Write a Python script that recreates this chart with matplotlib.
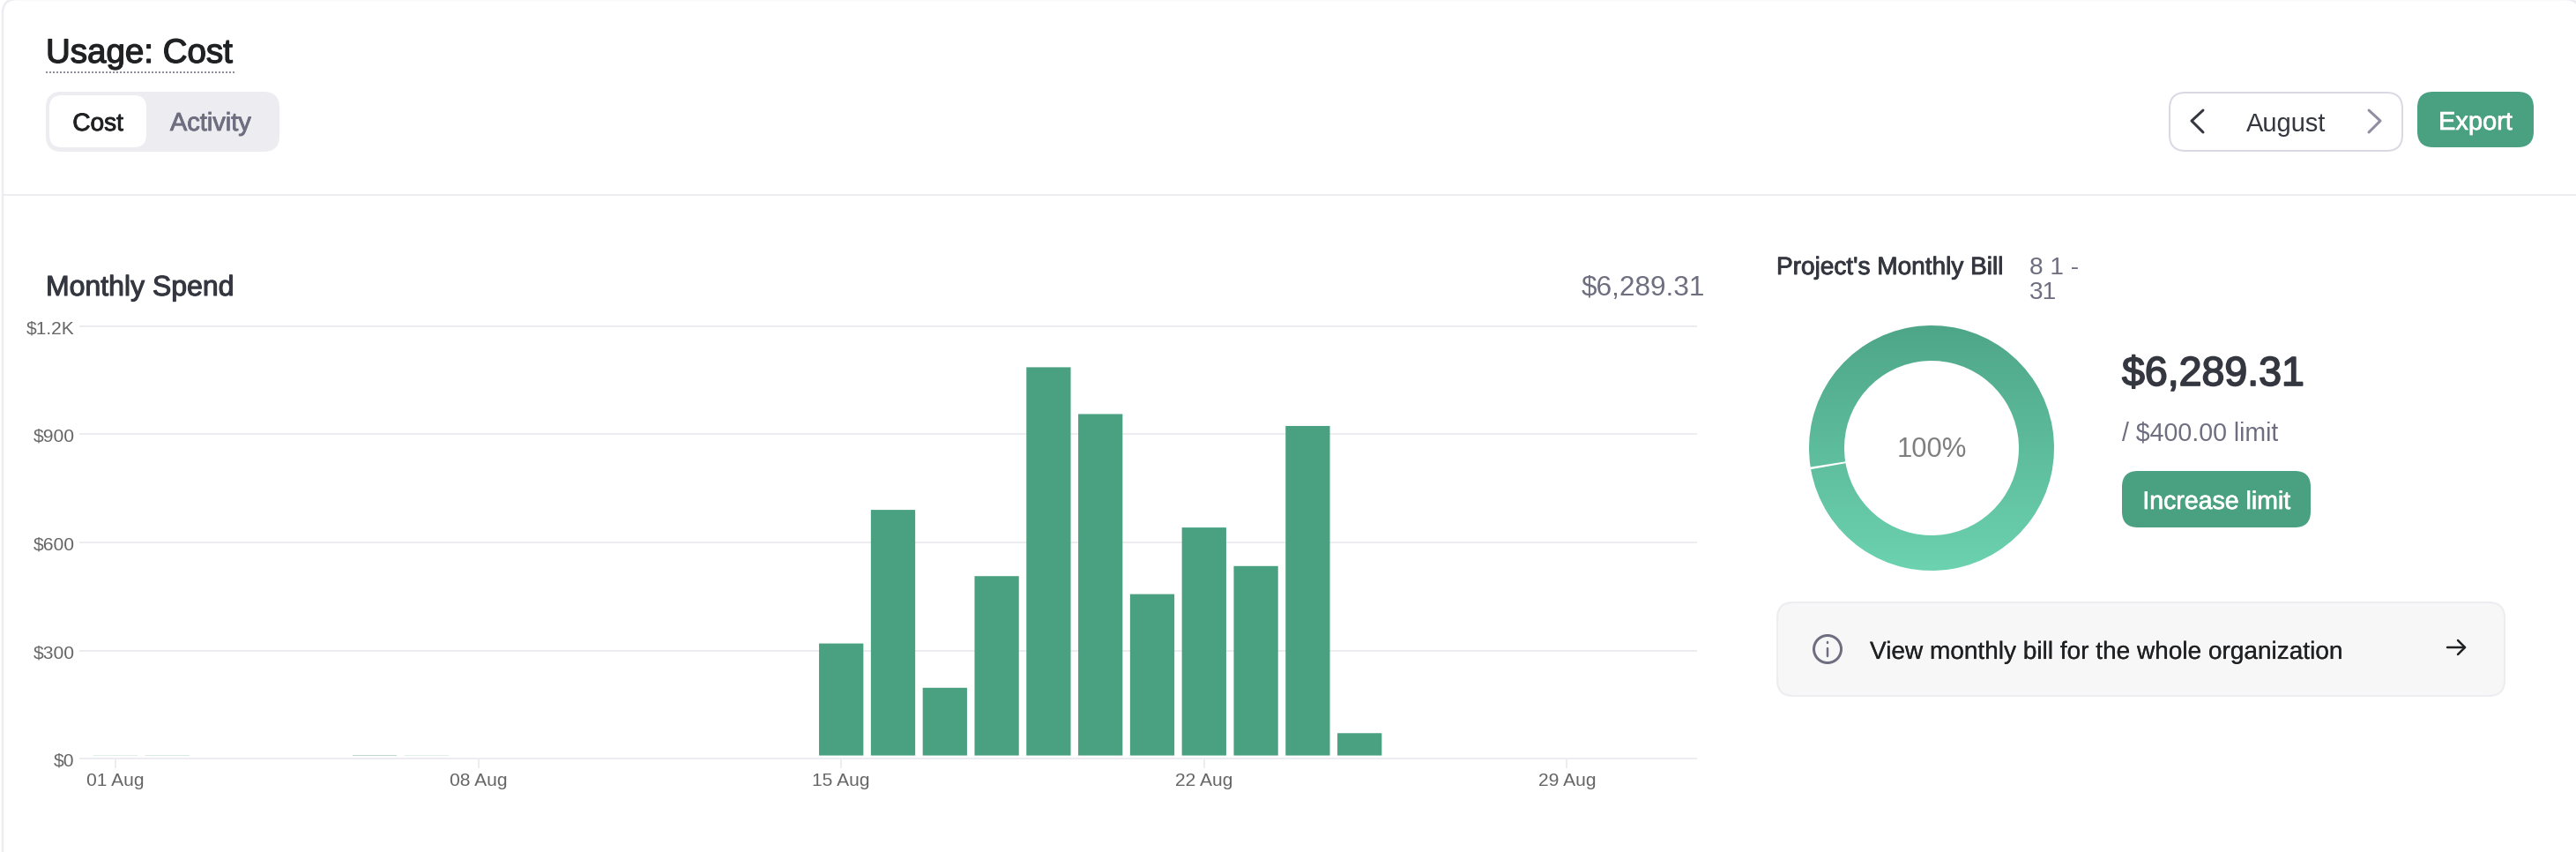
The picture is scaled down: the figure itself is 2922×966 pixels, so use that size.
import numpy as np
from matplotlib import pyplot as plt
from matplotlib import patheffects as pe
from matplotlib.colors import LinearSegmentedColormap
from matplotlib.patches import Circle, FancyBboxPatch
from matplotlib.transforms import ScaledTranslation

W, H = 2922, 966

days = [1, 2, 6, 7, 15, 16, 17, 18, 19, 20, 21, 22, 23, 24, 25]
spend = [0.4, 0.5, 0.9, 0.4, 311, 682, 188, 498, 1078, 948, 448, 633, 526, 915, 62]
y_ticks = [0, 300, 600, 900, 1200]
y_labels = ['$0', '$300', '$600', '$900', '$1.2K']
x_ticks = [1, 8, 15, 22, 29]
x_labels = ['01 Aug', '08 Aug', '15 Aug', '22 Aug', '29 Aug']
bill_share = [0.997]

GREEN = '#4aa181'
LINE = '#ececf1'
DARK = '#353740'
BLACK = '#202123'
GRAY = '#6e6e80'
TICK = '#666666'

plt.rcParams['font.family'] = ['Liberation Sans', 'DejaVu Sans']

fig = plt.figure(figsize=(W / 100, H / 100), dpi=100, facecolor='white')

# page furniture, in pixel coordinates
ui = fig.add_axes([0, 0, 1, 1])
ui.set_xlim(0, W)
ui.set_ylim(H, 0)
ui.axis('off')


def px(v):
    return v * 0.72


def box(x0, y0, x1, y1, r, fc, ec='none', lw=0):
    ui.add_patch(FancyBboxPatch((x0, y0), x1 - x0, y1 - y0,
                                boxstyle=f'round,pad=0,rounding_size={r}',
                                fc=fc, ec=ec, lw=px(lw)))


def label(x, y, s, size, color, heavy=0, ha='left'):
    t = ui.text(x, y, s, fontsize=px(size), color=color, ha=ha, va='baseline')
    # no medium cut in this family, thicken the regular one instead
    if heavy:
        t.set_path_effects([pe.withStroke(linewidth=px(heavy), foreground=color)])


def stroke(xs, ys, color, lw=3):
    ui.plot(xs, ys, color=color, lw=px(lw), solid_capstyle='round', solid_joinstyle='round')


box(3, -1, 2926, 1000, 16, 'white', LINE, 2.5)
ui.plot([3, 2922], [221, 221], color=LINE, lw=px(2))

label(52, 71, 'Usage: Cost', 38.5, BLACK, 1.3)
ui.plot([52, 266], [82, 82], color='#8e8ea0', lw=px(2), ls=(0, (1, 1)))

box(52, 104, 317, 172, 18, LINE)
box(56, 108, 166, 167, 14, 'white')
label(111, 148, 'Cost', 28, BLACK, 0.9, ha='center')
label(239, 148, 'Activity', 29, GRAY, 0.9, ha='center')

box(2461, 105, 2725, 171, 18, 'white', '#d9d9e3', 2)
stroke([2499, 2486, 2499], [125, 137, 150], DARK)
stroke([2687, 2700, 2687], [125, 137, 150], '#8e8ea0')
label(2593, 149, 'August', 29, DARK, ha='center')
box(2742, 104, 2874, 167, 18, GREEN)
label(2808, 147, 'Export', 29, 'white', 0.7, ha='center')

label(52, 335, 'Monthly Spend', 32, DARK, 1.1)
label(1934, 335, '$6,289.31', 31.5, GRAY, ha='right')

label(2015, 311, "Project's Monthly Bill", 28, DARK, 0.9)
label(2302, 311, '8 1 -', 28, GRAY)
label(2302, 339, '31', 28, GRAY)

label(2191, 518, '100%', 31, '#7f7f7f', ha='center')
label(2407, 437, '$6,289.31', 46.5, DARK, 1.7)
label(2407, 499, '/ $400.00 limit', 28.5, GRAY)
box(2407, 534, 2621, 598, 18, GREEN)
label(2514, 577, 'Increase limit', 28.5, 'white', 0.7, ha='center')

box(2016, 683, 2841, 789, 18, '#f7f7f8', LINE, 2)
ui.add_patch(Circle((2073, 736), 15.5, fc='none', ec=GRAY, lw=px(3)))
stroke([2073, 2073], [735, 744], GRAY, 2.5)
stroke([2073, 2073], [728, 728.5], GRAY, 2.5)
label(2121, 747, 'View monthly bill for the whole organization', 28, BLACK, 0.2)
stroke([2776, 2796], [734, 734], BLACK, 2.5)
stroke([2788, 2796, 2788], [726, 734, 742], BLACK, 2.5)

# bar chart
ax_left, ax_right, ax_top, ax_bottom = 90.6, 1924, 370, 860
ax = fig.add_axes([ax_left / W, 1 - ax_bottom / H, (ax_right - ax_left) / W, (ax_bottom - ax_top) / H])
ax.patch.set_alpha(0)
day_px = 58.8
ax.set_xlim(1 + (ax_left - 131) / day_px, 1 + (ax_right - 131) / day_px)
ax.set_ylim(0, 1200)
# the bars float slightly above the zero line in the reference
bars = ax.bar(days, spend, width=0.855, bottom=8.4, color=GREEN, linewidth=0)
for b in bars:
    b.set_snap(False)
ax.set_yticks(y_ticks, y_labels)
ax.set_xticks(x_ticks, x_labels)
ax.tick_params(axis='y', length=0, pad=px(6), labelsize=px(21), labelcolor=TICK)
ax.tick_params(axis='x', length=px(11), width=px(2), color=LINE, pad=px(5), labelsize=px(21), labelcolor=TICK)
ax.grid(axis='y', color=LINE, lw=px(2))
ax.set_axisbelow(True)
for line in ax.get_ygridlines():
    line.set_clip_on(False)
for t in ax.get_yticklabels():
    t.set_transform(t.get_transform() + ScaledTranslation(0, -1 / 100, fig.dpi_scale_trans))
for s in ax.spines.values():
    s.set_visible(False)

# donut, gradient image clipped to the single pie slice
cx, cy, radius = 2191, 508, 139
pie = fig.add_axes([(cx - radius) / W, 1 - (cy + radius) / H, 2 * radius / W, 2 * radius / H])
wedges, _ = pie.pie(bill_share, normalize=False, startangle=190, radius=1,
                    wedgeprops={'width': 40 / 139, 'facecolor': 'none', 'linewidth': 0})
cmap = LinearSegmentedColormap.from_list('donut', ['#4ea688', '#6cd2af'])
im = pie.imshow(np.linspace(0, 1, 256)[:, None], extent=[-1, 1, -1, 1], cmap=cmap, aspect='auto')
im.set_clip_path(wedges[0])
pie.set_xlim(-1, 1)
pie.set_ylim(-1, 1)
pie.axis('off')

fig.savefig('out.png', dpi=100)
